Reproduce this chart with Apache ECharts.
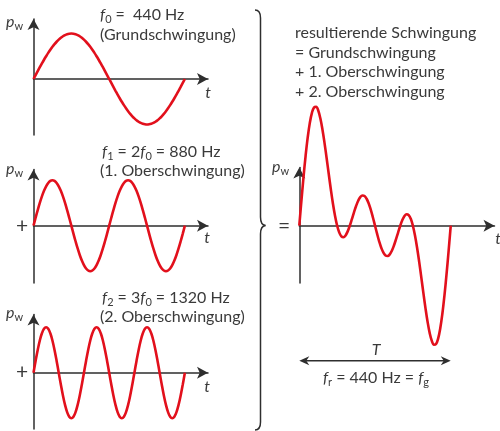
<!DOCTYPE html>
<html><head><meta charset="utf-8">
<script src="https://cdn.jsdelivr.net/npm/echarts@6/dist/echarts.min.js"></script>
<style>html,body{margin:0;padding:0;background:#fff}#c{width:500px;height:431px}</style>
</head><body><div id="c"></div>
<script>
// phase over one period of the fundamental (degrees, 5° steps)
const phaseDeg = [0,5,10,15,20,25,30,35,40,45,50,55,60,65,70,75,80,85,90,95,100,105,110,115,120,125,130,135,140,145,150,155,160,165,170,175,180,185,190,195,200,205,210,215,220,225,230,235,240,245,250,255,260,265,270,275,280,285,290,295,300,305,310,315,320,325,330,335,340,345,350,355,360];
// Grundschwingung f0 = 440 Hz
const fundamental = [0,0.087,0.174,0.259,0.342,0.423,0.5,0.574,0.643,0.707,0.766,0.819,0.866,0.906,0.94,0.966,0.985,0.996,1,0.996,0.985,0.966,0.94,0.906,0.866,0.819,0.766,0.707,0.643,0.574,0.5,0.423,0.342,0.259,0.174,0.087,0,-0.087,-0.174,-0.259,-0.342,-0.423,-0.5,-0.574,-0.643,-0.707,-0.766,-0.819,-0.866,-0.906,-0.94,-0.966,-0.985,-0.996,-1,-0.996,-0.985,-0.966,-0.94,-0.906,-0.866,-0.819,-0.766,-0.707,-0.643,-0.574,-0.5,-0.423,-0.342,-0.259,-0.174,-0.087,0];
// 1. Oberschwingung f1 = 880 Hz
const overtone1 = [0,0.174,0.342,0.5,0.643,0.766,0.866,0.94,0.985,1,0.985,0.94,0.866,0.766,0.643,0.5,0.342,0.174,0,-0.174,-0.342,-0.5,-0.643,-0.766,-0.866,-0.94,-0.985,-1,-0.985,-0.94,-0.866,-0.766,-0.643,-0.5,-0.342,-0.174,0,0.174,0.342,0.5,0.643,0.766,0.866,0.94,0.985,1,0.985,0.94,0.866,0.766,0.643,0.5,0.342,0.174,0,-0.174,-0.342,-0.5,-0.643,-0.766,-0.866,-0.94,-0.985,-1,-0.985,-0.94,-0.866,-0.766,-0.643,-0.5,-0.342,-0.174,0];
// 2. Oberschwingung f2 = 1320 Hz
const overtone2 = [0,0.259,0.5,0.707,0.866,0.966,1,0.966,0.866,0.707,0.5,0.259,0,-0.259,-0.5,-0.707,-0.866,-0.966,-1,-0.966,-0.866,-0.707,-0.5,-0.259,0,0.259,0.5,0.707,0.866,0.966,1,0.966,0.866,0.707,0.5,0.259,0,-0.259,-0.5,-0.707,-0.866,-0.966,-1,-0.966,-0.866,-0.707,-0.5,-0.259,0,0.259,0.5,0.707,0.866,0.966,1,0.966,0.866,0.707,0.5,0.259,0,-0.259,-0.5,-0.707,-0.866,-0.966,-1,-0.966,-0.866,-0.707,-0.5,-0.259,0];
// resultierende Schwingung
const resultant = [0,0.52,1.016,1.466,1.851,2.155,2.366,2.48,2.494,2.414,2.251,2.018,1.732,1.413,1.083,0.759,0.461,0.204,0,-0.144,-0.223,-0.241,-0.203,-0.119,0,0.138,0.281,0.414,0.524,0.6,0.634,0.623,0.565,0.466,0.332,0.172,0,-0.172,-0.332,-0.466,-0.565,-0.623,-0.634,-0.6,-0.524,-0.414,-0.281,-0.138,0,0.119,0.203,0.241,0.223,0.144,0,-0.204,-0.461,-0.759,-1.083,-1.413,-1.732,-2.018,-2.251,-2.414,-2.494,-2.48,-2.366,-2.155,-1.851,-1.466,-1.016,-0.52,0];

const RED = '#e2101c';
const AX = '#2e2e2e';
const TXT = '#3a3a3a';
const FONT = 'Lato, "Open Sans", sans-serif';
const FS = 16;

const pairs = v => phaseDeg.map((p, i) => [p, v[i]]);

const grids = [
  {left: 33.5, top: 19, width: 174.5, height: 116},
  {left: 33.5, top: 169.5, width: 174.5, height: 113.5},
  {left: 33.5, top: 314.5, width: 174.5, height: 114.5},
  {left: 299.3, top: 167.5, width: 195.2, height: 115.5}
];
const xMax = [415, 415, 415, 464];
const yRange = [[-1.231, 1.319], [-1.259, 1.235], [-1.237, 1.279], [-1.201, 1.22]];
const periodLevel = -2.83; // level of the T double arrow in the resultant panel

const axisLine = {
  onZero: true,
  symbol: ['none', 'arrow'],
  symbolSize: [9, 11],
  lineStyle: {color: AX, width: 1.5}
};
const xAxis = grids.map((g, i) => ({
  gridIndex: i, type: 'value', min: 0, max: xMax[i],
  axisLine: axisLine, axisTick: {show: false}, axisLabel: {show: false}, splitLine: {show: false}
}));
const yAxis = grids.map((g, i) => ({
  gridIndex: i, type: 'value', min: yRange[i][0], max: yRange[i][1],
  axisLine: axisLine, axisTick: {show: false}, axisLabel: {show: false}, splitLine: {show: false}
}));

const curves = [fundamental, overtone1, overtone2, resultant];
const series = curves.map((v, i) => ({
  type: 'line', xAxisIndex: i, yAxisIndex: i, data: pairs(v),
  smooth: 0.4, showSymbol: false, clip: false, silent: true,
  lineStyle: {color: RED, width: 2.6}
}));

const rich = {
  n: {fontSize: FS, fontFamily: FONT, color: TXT, lineHeight: 20},
  i: {fontSize: FS, fontFamily: FONT, color: TXT, fontStyle: 'italic', lineHeight: 20},
  b: {fontSize: 21, fontFamily: FONT, color: TXT, lineHeight: 22},
  s: {fontSize: 11, fontFamily: FONT, color: TXT, lineHeight: 11, verticalAlign: 'bottom'}
};
function txt(x, y, text, align) {
  return {
    type: 'text', x: x, y: y, silent: true,
    style: {text: text, rich: rich, fill: TXT, font: FS + 'px ' + FONT, align: align || 'left', verticalAlign: 'middle'}
  };
}
const braceStyle = {stroke: AX, lineWidth: 1.5, fill: null};
function bz(x1, y1, cx, cy, x2, y2) {
  return {type: 'bezierCurve', silent: true, shape: {x1: x1, y1: y1, cpx1: cx, cpy1: cy, x2: x2, y2: y2}, style: braceStyle};
}
function ln(x1, y1, x2, y2) {
  return {type: 'line', silent: true, shape: {x1: x1, y1: y1, x2: x2, y2: y2}, style: {stroke: AX, lineWidth: 1.5}};
}

const graphic = [
  txt(6, 22, '{i|p}{s|w}'),
  txt(6, 169, '{i|p}{s|w}'),
  txt(6, 313, '{i|p}{s|w}'),
  txt(272, 167, '{i|p}{s|w}'),
  txt(100, 15, '{i|f}{s|0}{n| =  440 Hz}'),
  txt(100, 35, '{n|(Grundschwingung)}'),
  txt(102, 152, '{i|f}{s|1}{n| = 2}{i|f}{s|0}{n| = 880 Hz}'),
  txt(100, 171, '{n|(1. Oberschwingung)}'),
  txt(102, 298, '{i|f}{s|2}{n| = 3}{i|f}{s|0}{n| = 1320 Hz}'),
  txt(100, 317, '{n|(2. Oberschwingung)}'),
  txt(208, 93, '{i|t}', 'center'),
  txt(207, 238, '{i|t}', 'center'),
  txt(207, 387, '{i|t}', 'center'),
  txt(498, 239, '{i|t}', 'center'),
  txt(22, 226, '{b|+}', 'center'),
  txt(22, 372, '{b|+}', 'center'),
  txt(284, 226, '{b|=}', 'center'),
  txt(295, 33, '{n|resultierende Schwingung}'),
  txt(295, 53, '{n|= Grundschwingung}'),
  txt(295, 72, '{n|+ 1. Oberschwingung}'),
  txt(295, 92, '{n|+ 2. Oberschwingung}'),
  txt(376, 350, '{i|T}', 'center'),
  txt(376, 378, '{i|f}{s|r}{n| = 440 Hz = }{i|f}{s|g}', 'center'),
  bz(255, 10, 260.5, 10, 260.5, 18),
  ln(260.5, 18, 260.5, 217),
  bz(260.5, 217, 260.5, 225, 265.5, 225.5),
  bz(265.5, 225.5, 260.5, 226, 260.5, 234),
  ln(260.5, 234, 260.5, 422),
  bz(260.5, 422, 260.5, 430, 255, 430)
];

const chart = echarts.init(document.getElementById('c'), null, {renderer: 'canvas'});
chart.setOption({
  animation: false,
  backgroundColor: '#fff',
  grid: grids,
  xAxis: xAxis,
  yAxis: yAxis,
  series: series,
  graphic: graphic
});

// period arrow T spanning one period of the resultant (from first to last phase sample)
const pA = chart.convertToPixel({gridIndex: 3}, [phaseDeg[0], periodLevel]);
const pB = chart.convertToPixel({gridIndex: 3}, [phaseDeg[phaseDeg.length - 1], periodLevel]);
function head(tip, dir) {
  const L = 10, W = 4.5, N = 7;
  return {
    type: 'polygon', silent: true,
    shape: {points: [[tip[0], tip[1]], [tip[0] + dir * L, tip[1] - W], [tip[0] + dir * N, tip[1]], [tip[0] + dir * L, tip[1] + W]]},
    style: {fill: AX}
  };
}
graphic.push(ln(pA[0] + 4, pA[1], pB[0] - 4, pB[1]));
graphic.push(head(pA, 1));
graphic.push(head(pB, -1));
chart.setOption({graphic: graphic});
</script>
</body></html>
